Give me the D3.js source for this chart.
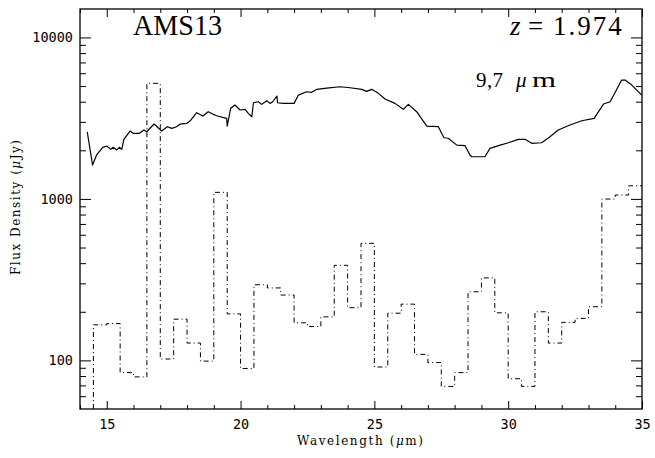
<!DOCTYPE html>
<html>
<head>
<meta charset="utf-8">
<script src="https://cdn.jsdelivr.net/npm/d3@7"></script>
<style>
  body { margin: 0; background: #fff; }
  svg { display: block; }
</style>
</head>
<body>
<svg id="chart" width="655" height="458"></svg>
<script>
// IRS spectrum: wavelength (um) and flux density (uJy)
const specWave = [14.27, 14.47, 14.62, 14.85, 15.00, 15.15, 15.24, 15.37, 15.47, 15.56,
  15.64, 15.87, 15.99, 16.22, 16.39, 16.49, 16.77, 17.05, 17.26, 17.43,
  17.61, 17.74, 17.99, 18.11, 18.36, 18.59, 18.79, 18.98, 19.11, 19.48,
  19.50, 19.63, 19.79, 19.98, 20.17, 20.29, 20.42, 20.48, 20.66, 20.79,
  20.98, 21.10, 21.20, 21.36, 21.38, 21.60, 22.00, 22.16, 22.47, 22.66,
  22.85, 23.22, 23.72, 24.09, 24.53, 24.71, 24.90, 25.15, 25.40, 25.77,
  26.08, 26.27, 26.58, 26.96, 27.39, 27.60, 27.76, 28.08, 28.39, 28.57,
  28.64, 29.13, 29.32, 29.70, 30.01, 30.38, 30.63, 30.88, 31.25, 31.56,
  31.87, 32.31, 32.75, 33.21, 33.56, 33.81, 34.24, 34.37, 34.62, 34.99];
const specFlux = [2606, 1621, 1871, 2087, 2126, 2027, 2087, 2009, 2087, 2027,
  2339, 2632, 2547, 2547, 2671, 2606, 2909, 2632, 2800, 2736,
  2800, 2909, 2937, 3035, 3419, 3259, 3467, 3340, 3273, 3155,
  2827, 3639, 3815, 3552, 3587, 3387, 3228, 3940, 3996, 3850,
  4055, 3905, 3996, 4335, 3940, 3905, 3905, 4396, 4610, 4570,
  4770, 4860, 4950, 4880, 4770, 4636, 4770, 4505, 4155, 3905,
  3587, 3850, 3467, 2827, 2800, 2393, 2375, 2154, 2136, 1871,
  1824, 1824, 2056, 2154, 2228, 2339, 2339, 2210, 2228, 2427,
  2671, 2868, 3049, 3155, 3868, 3996, 5446, 5446, 5070, 4396];

// binned flux (dash-dot), bin left edges in um
const binEdges = [14.5, 15.0, 15.5, 16.0, 16.5, 17.0, 17.5, 18.0, 18.5, 19.0,
  19.5, 20.0, 20.5, 21.0, 21.5, 22.0, 22.5, 23.0, 23.5, 24.0,
  24.5, 25.0, 25.5, 26.0, 26.5, 27.0, 27.5, 28.0, 28.5, 29.0,
  29.5, 30.0, 30.5, 31.0, 31.5, 32.0, 32.5, 33.0, 33.5, 34.0,
  34.5, 35.0];
const binFlux = [166, 169, 84, 79, 5196, 102, 180, 128, 99, 1098,
  194, 89, 294, 281, 254, 171, 162, 186, 388, 212,
  531, 91, 196, 223, 109, 97, 69, 84, 266, 324,
  197, 77, 69, 200, 128, 172, 182, 215, 998, 1057,
  1206];

const xMajor = [15, 20, 25, 30, 35];
const xMinor = [14, 16, 17, 18, 19, 21, 22, 23, 24, 26, 27, 28, 29, 31, 32, 33, 34];
const yMajor = [100, 1000, 10000];
const yMinor = [60, 70, 80, 90, 200, 300, 400, 500, 600, 700, 800, 900,
  2000, 3000, 4000, 5000, 6000, 7000, 8000, 9000];

const width = 655, height = 458;
const margin = { top: 9, right: 13, bottom: 49, left: 80 };
const innerW = width - margin.left - margin.right;
const innerH = height - margin.top - margin.bottom;

const svg = d3.select('#chart');
const g = svg.append('g').attr('transform', `translate(${margin.left},${margin.top})`);

const x = d3.scaleLinear().domain([14, 35]).range([0, innerW]);
const y = d3.scaleLog().domain([50, 15000]).range([innerH, 0]);

svg.append('defs').append('clipPath').attr('id', 'plot')
  .append('rect').attr('width', innerW).attr('height', innerH);

const tickFont = g => g
  .attr('font-family', '"DejaVu Sans Mono", monospace')
  .attr('font-size', 13.5)
  .call(g => g.select('.domain').remove())
  .call(g => g.selectAll('line').attr('stroke', '#000'))
  .call(g => g.selectAll('text').attr('fill', '#000'));

// x axes, ticks point inward on both sides
g.append('g').attr('transform', `translate(0,${innerH})`)
  .call(d3.axisBottom(x).tickValues(xMajor).tickSize(-8).tickPadding(10).tickFormat(d3.format('d')))
  .call(tickFont);
g.append('g').attr('transform', `translate(0,${innerH})`)
  .call(d3.axisBottom(x).tickValues(xMinor).tickSize(-4).tickFormat(''))
  .call(tickFont);
g.append('g')
  .call(d3.axisTop(x).tickValues(xMajor).tickSize(-8).tickFormat(''))
  .call(tickFont);
g.append('g')
  .call(d3.axisTop(x).tickValues(xMinor).tickSize(-4).tickFormat(''))
  .call(tickFont);

// y axes
g.append('g')
  .call(d3.axisLeft(y).tickValues(yMajor).tickSize(-11).tickPadding(7).tickFormat(d3.format('d')))
  .call(tickFont);
g.append('g')
  .call(d3.axisLeft(y).tickValues(yMinor).tickSize(-6).tickFormat(''))
  .call(tickFont);
g.append('g').attr('transform', `translate(${innerW},0)`)
  .call(d3.axisRight(y).tickValues(yMajor).tickSize(-11).tickFormat(''))
  .call(tickFont);
g.append('g').attr('transform', `translate(${innerW},0)`)
  .call(d3.axisRight(y).tickValues(yMinor).tickSize(-6).tickFormat(''))
  .call(tickFont);

// binned flux as a dash-dot histogram, rising from the bottom edge
const steps = [[binEdges[0], y.domain()[0]]]
  .concat(binFlux.map((f, i) => [binEdges[i], f]))
  .concat([[binEdges[binEdges.length - 1], binFlux[binFlux.length - 1]]]);

const stepLine = d3.line()
  .x(d => x(d[0]))
  .y(d => y(d[1]))
  .curve(d3.curveStepAfter);

g.append('path')
  .attr('clip-path', 'url(#plot)')
  .attr('d', stepLine(steps))
  .attr('fill', 'none')
  .attr('stroke', '#000')
  .attr('stroke-width', 1)
  .attr('stroke-dasharray', '5,3,1,3');

// spectrum
const specLine = d3.line()
  .x((d, i) => x(specWave[i]))
  .y(d => y(d));

g.append('path')
  .attr('d', specLine(specFlux))
  .attr('fill', 'none')
  .attr('stroke', '#000')
  .attr('stroke-width', 1.2)
  .attr('stroke-linejoin', 'round');

// frame
g.append('rect')
  .attr('width', innerW)
  .attr('height', innerH)
  .attr('fill', 'none')
  .attr('stroke', '#000')
  .attr('stroke-width', 1.3);

// labels
const serif = '"Liberation Serif", "Times New Roman", serif';

svg.append('text')
  .attr('x', 133).attr('y', 35)
  .attr('font-family', serif).attr('font-size', 29)
  .attr('textLength', 89).attr('lengthAdjust', 'spacingAndGlyphs')
  .text('AMS13');

const zLabel = svg.append('text')
  .attr('y', 35)
  .attr('font-family', serif).attr('font-size', 27);
zLabel.append('tspan').attr('x', 510).attr('font-style', 'italic').text('z');
zLabel.append('tspan').attr('x', 528).text('=');
zLabel.append('tspan').attr('x', 553).attr('letter-spacing', 2).text('1.974');

svg.append('text')
  .attr('x', 476).attr('y', 87)
  .attr('font-family', serif).attr('font-size', 21)
  .attr('textLength', 27).attr('lengthAdjust', 'spacing')
  .text('9,7');
svg.append('text')
  .attr('x', 516).attr('y', 87)
  .attr('font-family', serif).attr('font-size', 21)
  .attr('font-style', 'italic')
  .text('μ');
svg.append('text')
  .attr('x', 532).attr('y', 87)
  .attr('font-family', serif).attr('font-size', 21)
  .attr('textLength', 24).attr('lengthAdjust', 'spacingAndGlyphs')
  .text('m');

const xTitle = svg.append('text')
  .attr('x', 297).attr('y', 445)
  .attr('font-family', '"DejaVu Serif", serif').attr('font-size', 12)
  .attr('textLength', 126).attr('lengthAdjust', 'spacing');
xTitle.append('tspan').text('Wavelength (');
xTitle.append('tspan').attr('font-style', 'italic').text('μ');
xTitle.append('tspan').text('m)');

const yTitle = svg.append('text')
  .attr('transform', 'translate(20,275) rotate(-90)')
  .attr('font-family', '"DejaVu Serif", serif').attr('font-size', 12)
  .attr('textLength', 135).attr('lengthAdjust', 'spacing');
yTitle.append('tspan').text('Flux Density (');
yTitle.append('tspan').attr('font-style', 'italic').text('μ');
yTitle.append('tspan').text('Jy)');
</script>
</body>
</html>
